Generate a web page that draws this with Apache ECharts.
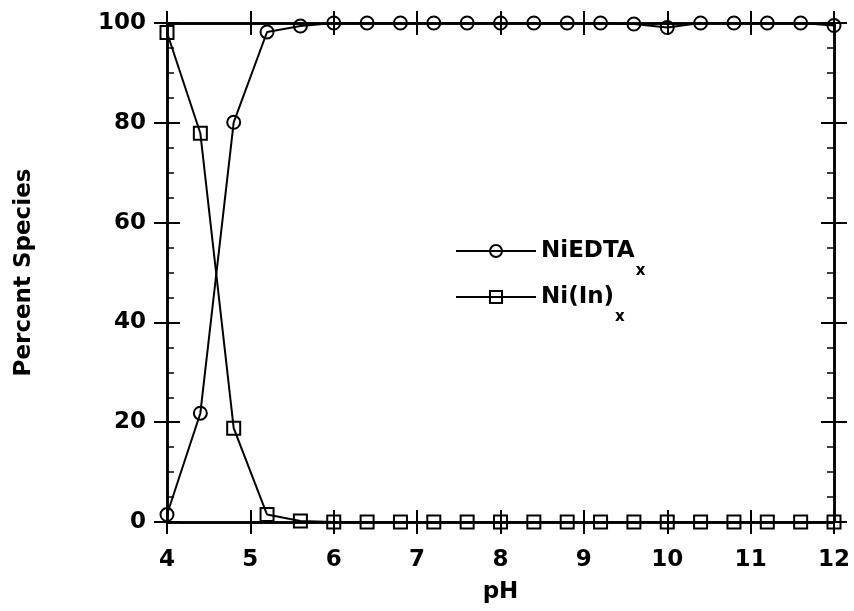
<!DOCTYPE html>
<html><head><meta charset="utf-8">
<script src="https://cdn.jsdelivr.net/npm/echarts@6/dist/echarts.min.js"></script>
<style>html,body{margin:0;padding:0;background:#fff}#c{width:854px;height:611px}</style>
</head><body><div id="c"></div>
<script>
const pH = [4,4.4,4.8,5.2,5.6,6,6.4,6.8,7.2,7.6,8,8.4,8.8,9.2,9.6,10,10.4,10.8,11.2,11.6,12];
const niEDTA = [1.5,21.8,80.1,98.2,99.4,100,100,100,100,100,100,100,100,100,99.8,99.1,100,100,100,100,99.5];
const niIn = [98.1,77.9,18.8,1.5,0.2,0,0,0,0,0,0,0,0,0,0,0,0,0,0,0,0];
const xTicks = {min:4,max:12,interval:1};
const yTicks = {min:0,max:100,interval:20};
const FONT = 'DejaVu Sans';

const chart = echarts.init(document.getElementById('c'), null, {renderer:'canvas'});
const axLine = {show:true,onZero:false,lineStyle:{color:'#000',width:2.5}};
function xAx(pos, inside, labels, extra){
  return Object.assign({type:'value',position:pos,min:xTicks.min,max:xTicks.max,interval:xTicks.interval,
    axisLine:axLine,splitLine:{show:false},
    axisTick:{show:true,inside:inside,length:12,lineStyle:{color:'#000',width:2}},
    axisLabel:{show:labels,margin:27,color:'#000',fontFamily:FONT,fontSize:23,fontWeight:'bold'}}, extra||{});
}
function yAx(pos, inside, labels, extra){
  return Object.assign({type:'value',position:pos,min:yTicks.min,max:yTicks.max,interval:yTicks.interval,
    axisLine:axLine,splitLine:{show:false},
    axisTick:{show:true,inside:inside,length:13,lineStyle:{color:'#000',width:2}},
    minorTick:{show:inside,splitNumber:4,length:7,lineStyle:{color:'#000',width:1.5}},
    minorSplitLine:{show:false},
    axisLabel:{show:labels,margin:21,padding:[3,0,0,0],color:'#000',fontFamily:FONT,fontSize:23,fontWeight:'bold'}}, extra||{});
}
const lineStyle = {color:'#000',width:2};
const itemStyle = {color:'transparent',borderColor:'#000',borderWidth:2};
function legendAt(name, top){
  return {data:[name],left:455,top:top,padding:0,itemWidth:80,itemHeight:15,
    selectedMode:false,
    formatter: n => n==='NiEDTA' ? '{n|NiEDTA}{s|x}' : '{n|Ni(In)}{s|x}',
    textStyle:{color:'#000',fontFamily:FONT,fontSize:23,fontWeight:'bold',
      rich:{n:{fontFamily:FONT,fontSize:23,lineHeight:24,fontWeight:'bold',color:'#000'},
            s:{fontFamily:FONT,fontSize:15,lineHeight:15,padding:[41,0,0,1],color:'#000',fontWeight:'bold'}}}};
}
chart.setOption({
  animation:false,
  backgroundColor:'#fff',
  grid:{left:167,right:20,top:23,bottom:89,containLabel:false},
  xAxis:[
    xAx('bottom',false,true,{name:'pH',nameLocation:'middle',nameGap:59,
      nameTextStyle:{color:'#000',fontFamily:FONT,fontSize:23,fontWeight:'bold'}}),
    xAx('bottom',true,false),
    xAx('top',true,false),
    xAx('top',false,false)
  ],
  yAxis:[
    yAx('left',false,true,{name:'Percent Species',nameLocation:'middle',nameGap:131,nameRotate:90,
      nameTextStyle:{color:'#000',fontFamily:FONT,fontSize:23,fontWeight:'bold'}}),
    yAx('left',true,false),
    yAx('right',true,false),
    yAx('right',false,false)
  ],
  legend:[legendAt('NiEDTA',223),legendAt('Ni(In)',269)],
  series:[
    {name:'NiEDTA',type:'line',data:pH.map((x,i)=>[x,niEDTA[i]]),xAxisIndex:0,yAxisIndex:0,
     symbol:'circle',symbolSize:13,smooth:false,clip:false,lineStyle:lineStyle,itemStyle:itemStyle},
    {name:'Ni(In)',type:'line',data:pH.map((x,i)=>[x,niIn[i]]),xAxisIndex:0,yAxisIndex:0,
     symbol:'rect',symbolSize:13,smooth:false,clip:false,lineStyle:lineStyle,itemStyle:itemStyle}
  ]
});
</script></body></html>
